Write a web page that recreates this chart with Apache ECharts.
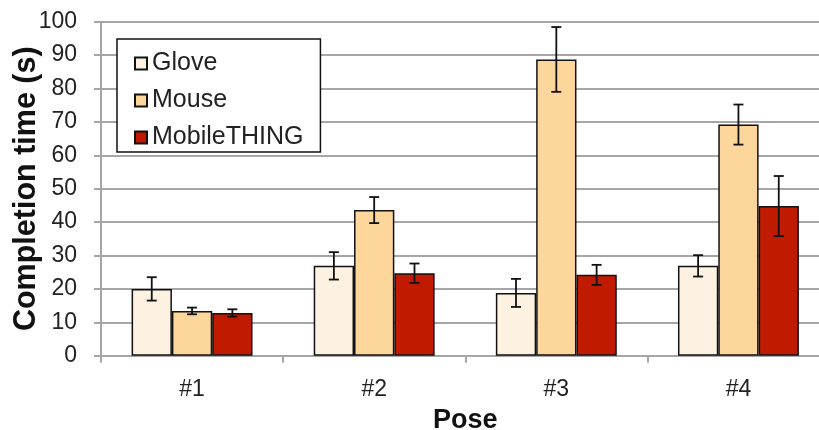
<!DOCTYPE html>
<html>
<head>
<meta charset="utf-8">
<script src="https://cdn.jsdelivr.net/npm/echarts@6/dist/echarts.min.js"></script>
<style>
html,body{margin:0;padding:0;background:#fff;}
#chart{width:819px;height:430px;}
</style>
</head>
<body>
<div id="chart"></div>
<script>
const categories = ['#1', '#2', '#3', '#4'];
const seriesNames = ['Glove', 'Mouse', 'MobileTHING'];
const glove = [20.0, 26.9, 18.8, 26.9];
const gloveErr = [3.5, 4.1, 4.2, 3.2];
const mouse = [13.4, 43.6, 88.7, 69.2];
const mouseErr = [1.0, 3.9, 9.7, 6.0];
const mobile = [12.8, 24.7, 24.2, 44.8];
const mobileErr = [1.1, 2.9, 3.0, 9.0];
const yTicks = [0, 10, 20, 30, 40, 50, 60, 70, 80, 90, 100];

const colors = ['#FDF2E2', '#FDD69B', '#C01A00'];
const values = [glove, mouse, mobile];
const errs = [gloveErr, mouseErr, mobileErr];
const CAT_GAP = 0.336;

const chart = echarts.init(document.getElementById('chart'), null, {renderer: 'canvas'});

const barSeries = seriesNames.map((name, i) => ({
  name: name,
  type: 'bar',
  data: values[i],
  barGap: '0%',
  barCategoryGap: (CAT_GAP * 100) + '%',
  itemStyle: {color: colors[i], borderColor: '#111', borderWidth: 1.5},
  emphasis: {disabled: true},
  z: 2
}));

const errSeries = seriesNames.map((name, i) => ({
  type: 'custom',
  data: values[i].map((v, k) => [k, v - errs[i][k], v + errs[i][k]]),
  z: 5,
  silent: true,
  renderItem: function (params, api) {
    const k = api.value(0);
    const lo = api.coord([k, api.value(1)]);
    const hi = api.coord([k, api.value(2)]);
    const band = api.size([1, 0])[0];
    const bw = band * (1 - CAT_GAP) / 3;
    const x = lo[0] + (i - 1) * bw;
    const cap = 5;
    const st = {stroke: '#111', lineWidth: 1.8};
    return {
      type: 'group',
      children: [
        {type: 'line', shape: {x1: x, y1: lo[1], x2: x, y2: hi[1]}, style: st},
        {type: 'line', shape: {x1: x - cap, y1: lo[1], x2: x + cap, y2: lo[1]}, style: st},
        {type: 'line', shape: {x1: x - cap, y1: hi[1], x2: x + cap, y2: hi[1]}, style: st}
      ]
    };
  }
}));

const option = {
  animation: false,
  textStyle: {fontFamily: 'Liberation Sans, Arial, sans-serif'},
  grid: {left: 101, top: 21.7, bottom: 74.3, right: -10.5, containLabel: false, outerBoundsMode: 'none'},
  legend: {
    orient: 'vertical',
    left: 117,
    top: 39,
    data: seriesNames,
    itemWidth: 12,
    itemHeight: 12,
    itemGap: 12,
    icon: 'rect',
    padding: [12, 17, 2, 17],
    backgroundColor: '#fff',
    borderColor: '#111',
    borderWidth: 1.5,
    borderRadius: 0,
    textStyle: {fontSize: 25, color: '#222', fontFamily: 'Liberation Sans, Arial, sans-serif'},
    selectedMode: false
  },
  xAxis: {
    type: 'category',
    data: categories,
    name: 'Pose',
    nameLocation: 'middle',
    nameGap: 51,
    nameMoveOverlap: false,
    nameTextStyle: {fontSize: 27, fontWeight: 'bold', color: '#111'},
    axisLine: {lineStyle: {color: '#A6A6A6', width: 2}},
    axisTick: {show: true, length: 7, lineStyle: {color: '#A6A6A6', width: 2}},
    axisLabel: {fontSize: 23, color: '#222', margin: 22}
  },
  yAxis: {
    type: 'value',
    min: yTicks[0],
    max: yTicks[yTicks.length - 1],
    interval: yTicks[1] - yTicks[0],
    name: 'Completion time (s)',
    nameLocation: 'middle',
    nameGap: 59,
    nameMoveOverlap: false,
    nameTextStyle: {fontSize: 30.5, fontWeight: 'bold', color: '#111'},
    axisLine: {show: true, lineStyle: {color: '#A6A6A6', width: 2}},
    axisTick: {show: true, length: 7, lineStyle: {color: '#A6A6A6', width: 2}},
    axisLabel: {fontSize: 23, color: '#222', margin: 24},
    splitLine: {lineStyle: {color: '#A6A6A6', width: 2}}
  },
  series: barSeries.concat(errSeries)
};
chart.setOption(option);
</script>
</body>
</html>
